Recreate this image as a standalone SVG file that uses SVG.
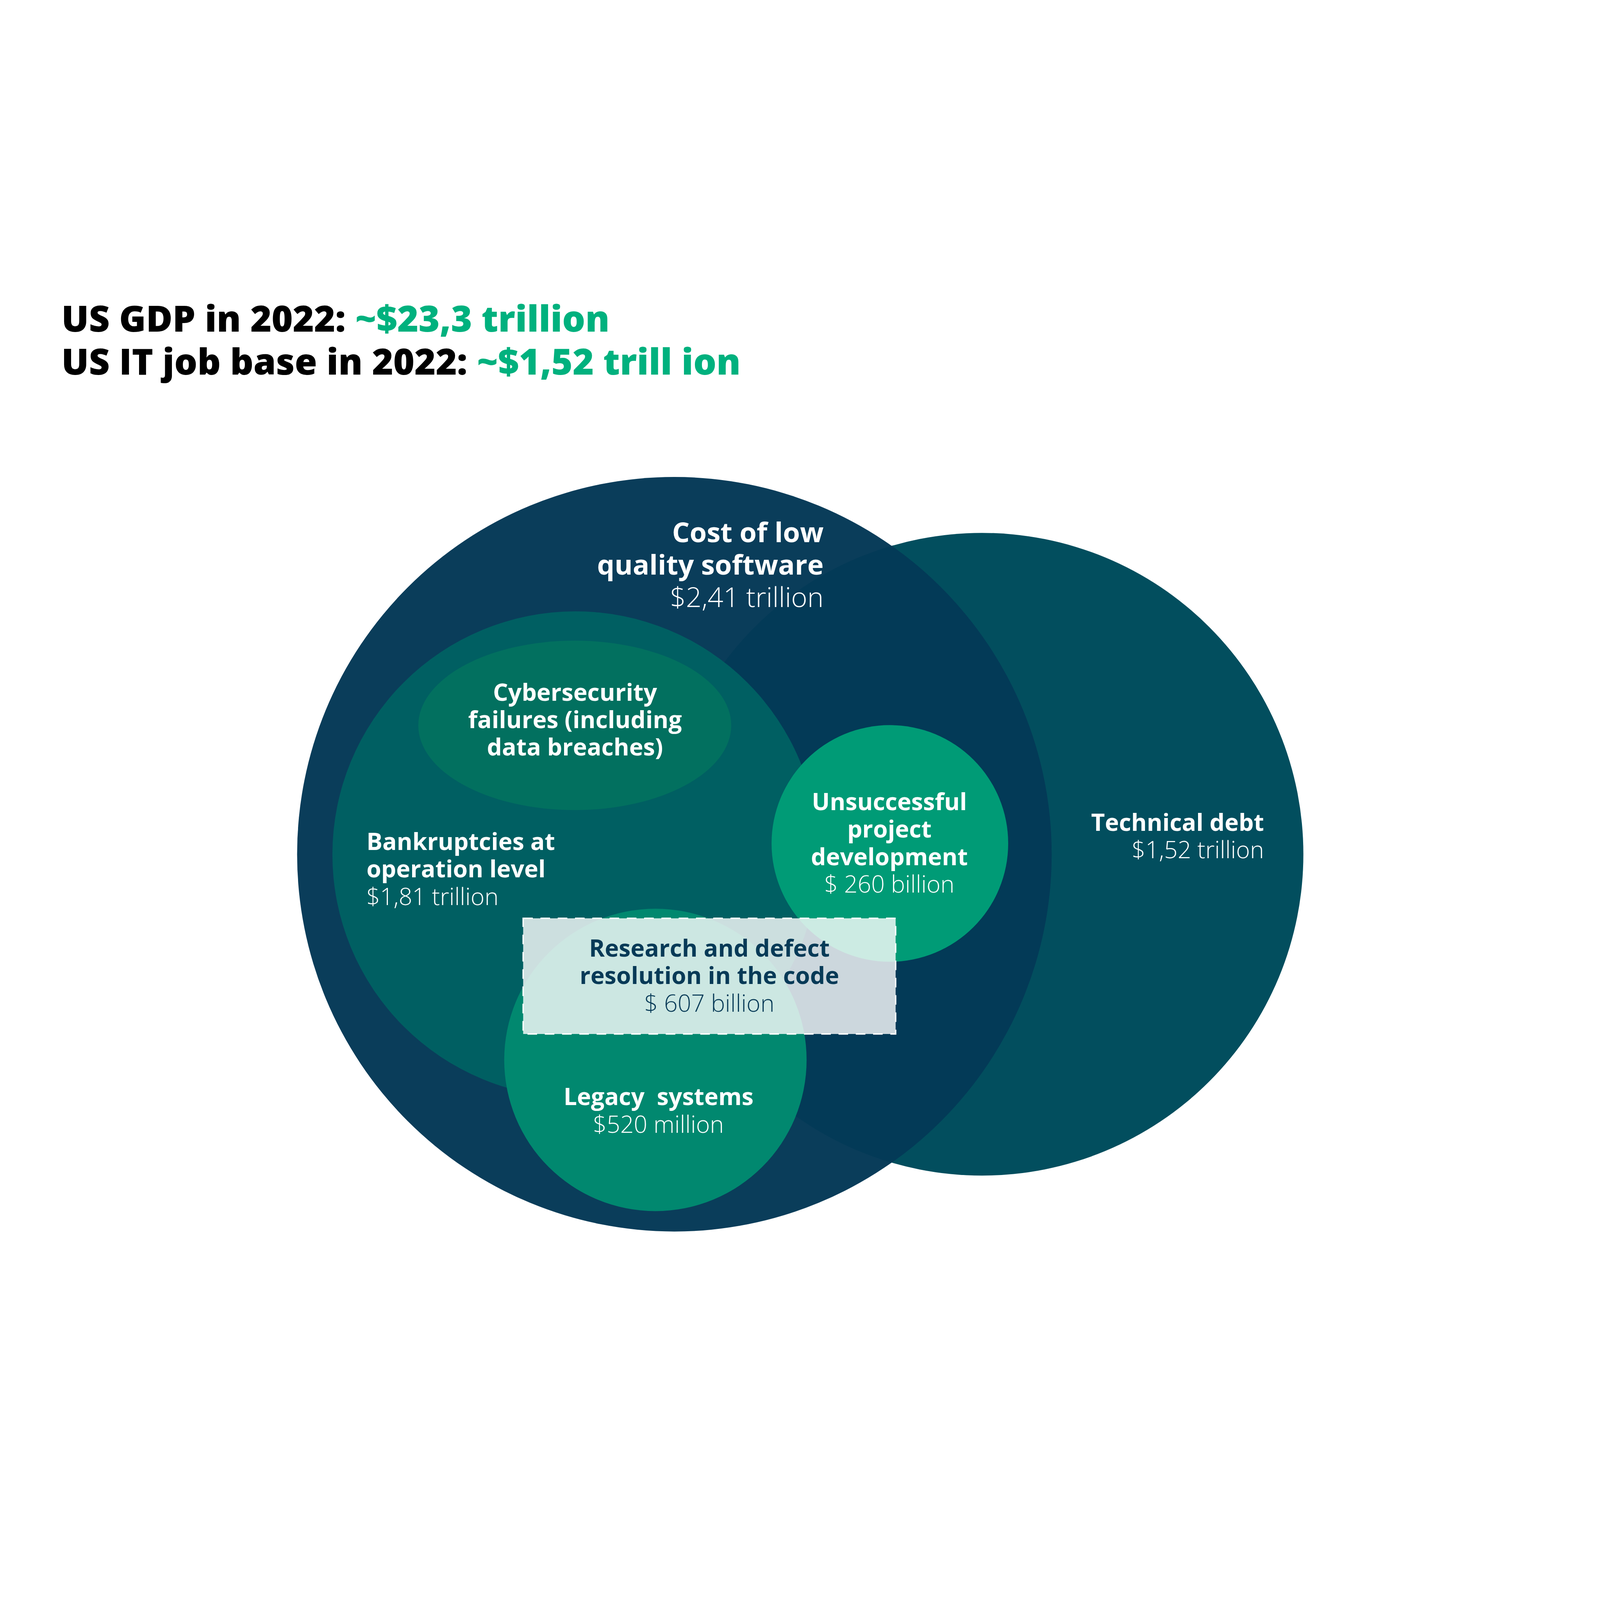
<svg xmlns="http://www.w3.org/2000/svg" width="6667" height="4542" viewBox="0 0 6667 4542">
<defs>
<clipPath id="clipBig"><circle cx="2810" cy="2497" r="1572"/></clipPath>
</defs>
<style>
svg:root{width:100vw;height:100vh}
text{font-family:"Open Sans","Noto Sans","Liberation Sans",sans-serif}
.b{font-weight:700;fill:#ffffff;font-size:99px}
.l{font-weight:300;fill:#ffffff;font-size:99px}
.bd{font-weight:700;fill:#073a57;font-size:99px}
.ld{font-weight:300;fill:#073a57;font-size:99px}
.big{font-size:115px}
.title{font-weight:800;font-size:151px;fill:#000000}
.green{fill:#00b17e}
.m{text-anchor:middle}
.e{text-anchor:end}
</style>
<rect width="6667" height="4542" fill="#ffffff"/>
<g id="title">
<text class="title" x="256" y="320">US GDP in 2022: <tspan class="green">~$23,3 trillion</tspan></text>
<text class="title" x="256" y="499">US IT job base in 2022: <tspan class="green">~$1,52 trill ion</tspan></text>
</g>
<g id="technical-debt">
<circle cx="4092" cy="2497" r="1339" fill="#024e5e"/>
<text class="b e" x="5267" y="2399">Technical debt</text>
<text class="l e" x="5267" y="2513">$1,52 trillion</text>
</g>
<g id="cost-low-quality">
<circle cx="2810" cy="2497" r="1572" fill="#0a3d5a"/>
<circle cx="4092" cy="2497" r="1339" fill="#033a57" clip-path="url(#clipBig)"/>
<text class="b big e" x="3432" y="1197">Cost of low</text>
<text class="b big e" x="3432" y="1332">quality software</text>
<text class="l big e" x="3432" y="1467">$2,41 trillion</text>
</g>
<g id="bankruptcies">
<circle cx="2398" cy="2498" r="1013" fill="#005f62"/>
<text class="b" x="1527" y="2479">Bankruptcies at</text>
<text class="b" x="1527" y="2594">operation level</text>
<text class="l" x="1527" y="2709">$1,81 trillion</text>
</g>
<g id="cybersecurity">
<ellipse cx="2395" cy="1960" rx="652" ry="353" fill="#02705f"/>
<text class="b m" x="2396" y="1857">Cybersecurity</text>
<text class="b m" x="2396" y="1972">failures (including</text>
<text class="b m" x="2396" y="2086">data breaches)</text>
</g>
<g id="unsuccessful">
<circle cx="3708" cy="2452" r="493" fill="#009b76"/>
<text class="b m" x="3706" y="2314">Unsuccessful</text>
<text class="b m" x="3706" y="2428">project</text>
<text class="b m" x="3706" y="2543">development</text>
<text class="l m" x="3706" y="2657">$ 260 billion</text>
</g>
<g id="legacy">
<circle cx="2731" cy="3354" r="630" fill="#01886f"/>
<text class="b m" x="2744" y="3543" xml:space="preserve">Legacy  systems</text>
<text class="l m" x="2744" y="3658">$520 million</text>
</g>
<g id="research">
<rect x="2180" y="2764" width="1552" height="482" fill="#ffffff" fill-opacity="0.8" stroke="#ffffff" stroke-width="6" stroke-dasharray="40 32"/>
<text class="bd m" x="2956" y="2924">Research and defect</text>
<text class="bd m" x="2956" y="3038">resolution in the code</text>
<text class="ld m" x="2956" y="3153">$ 607 billion</text>
</g>
</svg>
